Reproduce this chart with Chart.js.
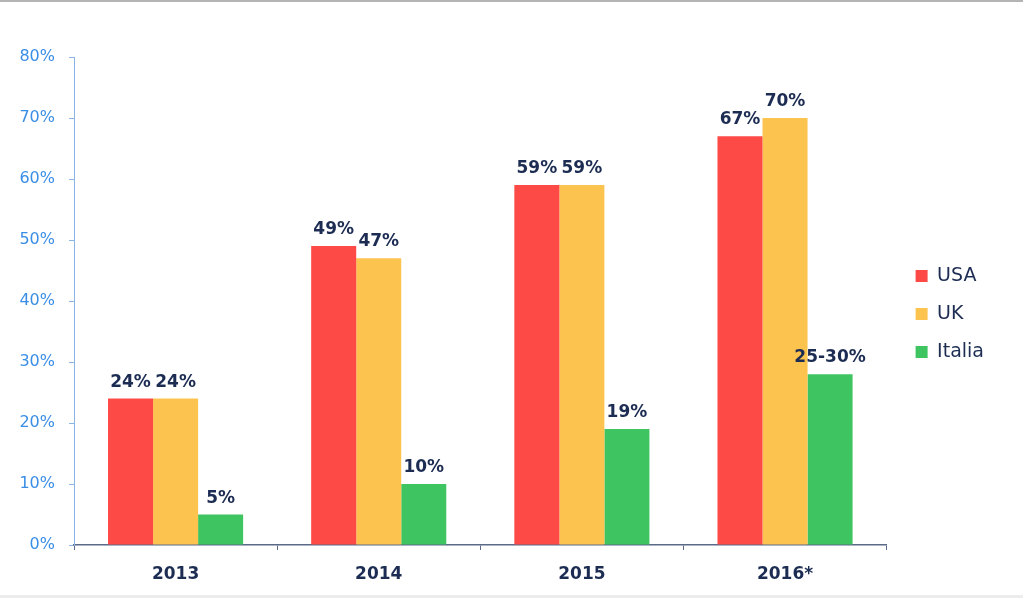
<!DOCTYPE html>
<html>
<head>
<meta charset="utf-8">
<script src="https://cdn.jsdelivr.net/npm/chart.js@4"></script>
<style>
    html, body { margin: 0; padding: 0; background: #ffffff; }
    .frame {
        width: 1023px;
        height: 593px;
        border-top: 2px solid #b4b4b4;
        border-bottom: 3px solid #ececec;
        position: relative;
    }
    canvas { display: block; }
</style>
</head>
<body>
<div class="frame">
    <canvas id="salesChart" width="1023" height="593"></canvas>
</div>
<script>
const years = ['2013', '2014', '2015', '2016*'];
const usaValues = [24, 49, 59, 67];
const ukValues = [24, 47, 59, 70];
const italiaValues = [5, 10, 19, 28];
const italiaLabels = ['5%', '10%', '19%', '25-30%'];
const yTicks = [0, 10, 20, 30, 40, 50, 60, 70, 80];

const navy = '#1c2c52';
const blue = '#3a8ee6';

// value labels above every bar
const barLabels = {
    id: 'barLabels',
    afterDatasetsDraw(chart) {
        const ctx = chart.ctx;
        ctx.save();
        ctx.font = 'bold 17px "DejaVu Sans"';
        ctx.fillStyle = navy;
        ctx.textAlign = 'center';
        ctx.textBaseline = 'alphabetic';
        chart.data.datasets.forEach((ds, i) => {
            const meta = chart.getDatasetMeta(i);
            meta.data.forEach((bar, j) => {
                const text = ds.valueLabels ? ds.valueLabels[j] : ds.data[j] + '%';
                ctx.fillText(text, bar.x, bar.y - 12);
            });
        });
        ctx.restore();
    }
};

document.addEventListener('DOMContentLoaded', () => {
    const ctx = document.getElementById('salesChart').getContext('2d');
    new Chart(ctx, {
        type: 'bar',
        data: {
            labels: years,
            datasets: [
                { label: 'USA', data: usaValues, backgroundColor: '#fd4a47' },
                { label: 'UK', data: ukValues, backgroundColor: '#fcc34f' },
                { label: 'Italia', data: italiaValues, valueLabels: italiaLabels, backgroundColor: '#3ec461' }
            ]
        },
        options: {
            responsive: false,
            animation: false,
            events: [],
            datasets: {
                bar: { barPercentage: 1, categoryPercentage: 0.665, borderWidth: 0 }
            },
            layout: {
                padding: { top: 55, left: 0, right: 29, bottom: 10 }
            },
            plugins: {
                tooltip: { enabled: false },
                legend: {
                    position: 'right',
                    fullSize: false,
                    title: { display: true, text: ' ', font: { size: 10 }, padding: 7 },
                    labels: {
                        boxWidth: 12,
                        boxHeight: 12,
                        padding: 19,
                        color: navy,
                        font: { family: '"DejaVu Sans"', size: 19 }
                    }
                }
            },
            scales: {
                x: {
                    afterFit: s => { s.height = 40; },
                    grid: {
                        drawOnChartArea: false,
                        drawTicks: true,
                        tickLength: 5,
                        color: '#5a6a88'
                    },
                    border: { color: '#5a6a88', width: 1.5 },
                    ticks: {
                        padding: 14,
                        color: navy,
                        font: { family: '"DejaVu Sans"', size: 17, weight: 'bold' }
                    }
                },
                y: {
                    min: 0,
                    max: 80,
                    afterFit: s => { s.width = 74; },
                    afterBuildTicks: s => { s.ticks = yTicks.map(v => ({ value: v })); },
                    grid: {
                        drawOnChartArea: false,
                        drawTicks: true,
                        tickLength: 5,
                        color: '#8ab4e8'
                    },
                    border: { color: '#8ab4e8', width: 1 },
                    ticks: {
                        padding: 14,
                        color: blue,
                        font: { family: '"DejaVu Sans"', size: 16 },
                        callback: v => v + '%'
                    }
                },
                gap: {
                    type: 'linear',
                    position: 'right',
                    display: true,
                    afterFit: s => { s.width = 10; },
                    grid: { display: false },
                    border: { display: false },
                    ticks: { display: false }
                }
            }
        },
        plugins: [barLabels]
    });
});
</script>
</body>
</html>
